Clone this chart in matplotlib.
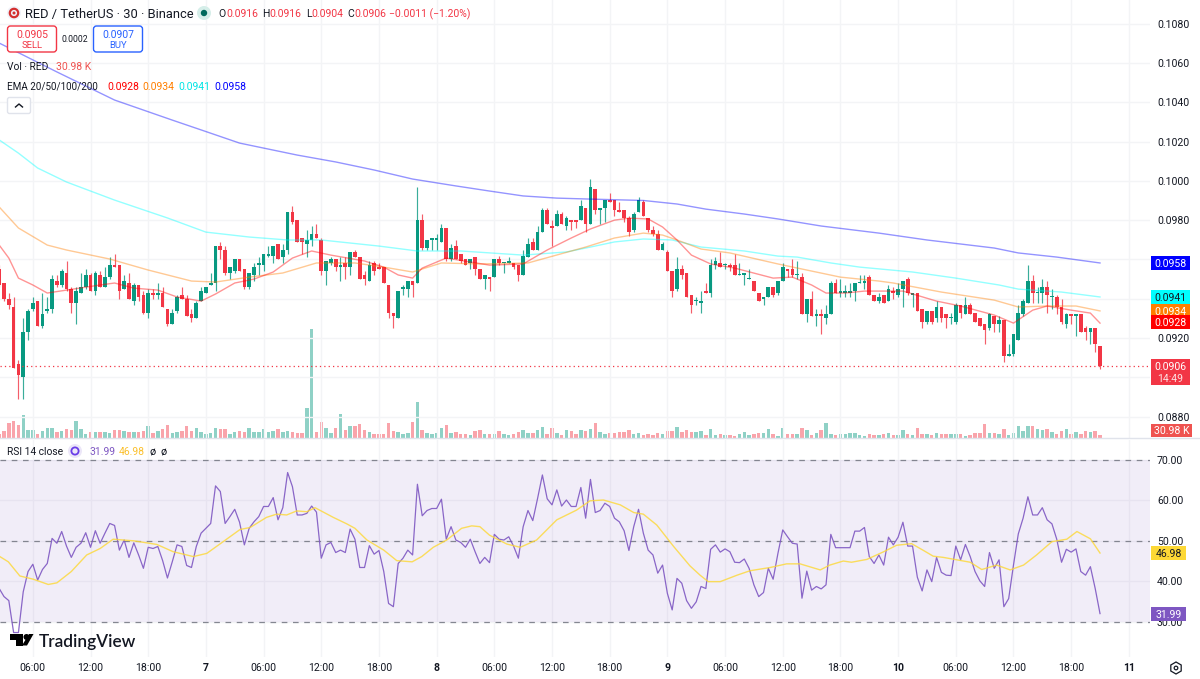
# TradingView style chart: RED/USDT 30 minute candles, volume, EMAs and RSI
import matplotlib
matplotlib.use('Agg')
import matplotlib.pyplot as plt
from matplotlib.patches import Rectangle, FancyBboxPatch, Circle, Polygon, RegularPolygon
from matplotlib.ticker import FuncFormatter
import numpy as np

plt.rcParams['font.family'] = ['Roboto', 'DejaVu Sans']

# prices are written in units of 0.0001
opens = [955,948,940,936,907,900,923,935,939,926,
         934,935,949,947,953,945,938,943,946,952,
         944,952,946,951,957,957,945,948,939,947,
         942,933,943,942,943,935,927,934,942,940,
         932,930,939,943,947,948,967,965,953,954,
         960,955,946,952,957,957,962,962,968,961,
         965,984,980,971,968,970,973,970,954,958,
         960,956,958,956,964,961,952,949,958,956,
         956,947,933,930,945,945,949,948,980,966,
         970,970,969,976,960,967,963,960,958,961,
         955,950,951,951,960,958,958,958,957,952,
         961,969,965,974,985,977,977,983,977,980,
         980,980,986,978,996,985,986,990,990,985,
         985,981,975,984,989,981,975,973,965,964,
         954,945,955,953,942,939,938,944,943,957,
         958,957,957,957,952,952,950,949,943,940,
         941,946,943,949,955,955,952,951,932,940,
         931,932,930,932,948,943,943,943,944,948,
         948,951,942,939,942,939,944,942,945,950,
         942,943,935,928,934,930,936,932,930,928,
         937,932,937,933,930,927,925,931,927,929,
         911,912,919,932,938,949,943,943,946,941,
         941,936,927,932,931,932,925,923,925,916]
closes = [947,940,937,905,901,923,934,938,926,932,
          935,950,947,954,945,938,944,946,952,944,
          953,946,951,957,956,944,949,940,947,941,
          933,943,942,943,936,927,933,941,940,931,
          930,938,944,946,948,967,965,953,956,960,
          954,946,953,956,958,963,963,967,960,965,
          984,979,969,969,970,973,971,954,959,960,
          956,957,956,964,961,950,950,957,954,955,
          948,933,931,944,946,949,947,980,966,970,
          971,971,976,960,966,960,959,957,960,955,
          950,952,950,960,958,958,959,956,952,962,
          968,965,974,985,978,976,983,978,981,979,
          979,987,978,997,985,986,990,989,985,984,
          981,974,983,990,982,975,973,965,968,954,
          944,955,952,941,937,939,939,943,957,959,
          956,957,956,952,952,953,950,944,939,941,
          946,942,949,956,954,952,952,932,940,931,
          932,931,932,948,943,944,944,944,948,948,
          949,942,939,941,938,945,943,945,949,943,
          943,934,928,934,928,936,930,930,930,937,
          933,937,932,928,926,924,932,927,929,911,
          912,922,933,939,949,943,943,946,942,941,
          936,928,932,931,932,923,923,925,917,906]
highs = [957,948,943,941,909,930,935,941,939,943,
         941,952,952,955,959,946,946,953,955,953,
         954,954,956,961,963,957,952,953,948,947,
         944,945,945,948,946,935,935,942,946,942,
         935,939,946,946,953,967,969,967,956,960,
         960,955,953,958,961,963,967,967,968,968,
         984,987,980,971,975,977,978,971,959,961,
         960,961,961,964,965,961,954,959,959,958,
         956,947,933,944,947,949,949,997,983,970,
         971,973,978,976,968,970,963,960,960,961,
         955,952,951,960,962,958,961,958,957,965,
         971,971,977,986,986,980,985,984,982,980,
         980,990,986,1001,996,986,990,994,990,989,
         985,982,984,992,990,981,977,975,969,965,
         954,961,957,953,942,941,944,948,960,961,
         964,958,958,963,958,953,955,949,943,941,
         946,946,949,958,955,960,959,953,940,944,
         935,935,937,949,950,950,947,948,948,952,
         952,952,942,943,942,947,946,948,949,951,
         943,943,935,934,934,939,936,932,933,938,
         937,941,938,933,930,927,933,931,931,929,
         917,922,937,940,957,952,946,950,949,945,
         942,940,933,932,932,932,926,925,925,916]
lows = [946,939,935,905,889,889,919,934,926,925,
        933,933,946,946,944,933,927,943,945,944,
        942,946,946,950,956,940,945,940,937,939,
        932,930,940,940,936,926,927,933,940,931,
        928,930,939,943,947,944,960,952,950,953,
        954,945,945,949,952,954,961,958,960,958,
        963,978,969,963,961,967,971,952,947,957,
        954,949,950,952,961,950,947,949,952,955,
        948,930,925,930,942,941,941,948,965,965,
        965,965,969,959,959,960,958,957,955,952,
        950,945,944,951,957,953,958,955,949,952,
        961,965,965,974,978,967,977,978,975,975,
        976,980,974,978,983,978,979,989,982,984,
        979,972,974,984,982,974,972,965,965,954,
        941,944,950,941,933,937,933,943,941,955,
        956,955,954,952,952,947,950,944,939,937,
        941,941,942,949,951,951,950,932,928,931,
        926,922,927,932,943,941,941,941,939,948,
        945,942,939,938,938,939,940,941,936,942,
        936,934,925,927,927,928,928,925,927,927,
        930,932,932,928,926,917,924,923,923,908,
        911,911,919,931,938,938,938,938,933,935,
        932,927,925,927,921,923,919,917,913,904]
# volume in thousands
volumes = [53,84,195,217,172,296,97,97,44,84,
           128,128,75,84,119,97,217,115,44,75,
           75,75,71,66,97,97,84,75,75,75,
           88,150,66,88,111,172,62,71,80,150,
           80,133,75,53,57,133,119,119,53,75,
           84,75,128,75,75,115,75,80,119,75,
           80,75,62,66,398,1446,75,204,133,66,
           133,318,106,150,159,186,106,75,44,44,
           53,195,84,75,44,66,204,469,97,62,
           53,66,133,172,66,75,53,44,31,84,
           106,44,53,53,84,44,31,53,75,97,
           66,66,97,142,44,133,66,31,97,88,
           44,106,84,119,195,75,44,66,66,75,
           71,97,53,66,31,44,31,66,53,88,
           88,142,75,106,75,75,88,31,111,31,
           44,31,31,18,44,75,31,53,66,66,
           111,53,18,133,44,53,53,133,97,31,
           66,97,195,53,31,53,53,66,66,31,
           18,40,31,35,44,57,35,27,97,44,
           31,128,44,44,31,66,40,40,44,44,
           44,22,35,66,66,181,66,66,40,111,
           35,66,150,80,159,150,119,97,119,75,
           44,84,111,44,75,53,84,75,84,30.98]

# EMAs at the bars listed
ema200_bars = [0,12,24,36,42,50,62,70,78,86,95,102,109,116,123,134,141,147,155,162,171,183,193,207,212,220,229]
ema200 = [1070.1,1055.4,1041.1,1030.9,1025.9,1019.2,1013.1,1009.6,1005.5,1000.9,997.4,994.8,992.3,991.2,990.7,990,
          988.2,985.6,983.1,980.6,977,973.4,969.9,965.8,963.3,961.2,958.2]
ema100_bars = [0,4,8,14,24,35,43,52,60,67,79,87,96,109,118,123,128,134,140,146,155,162,166,173,179,190,199,208,212,221,229]
ema100 = [1020.8,1014.1,1006.5,999.4,990.2,981.1,973.9,971.4,969.9,969.9,966.8,964.3,964.3,962.2,963.8,966.3,968.9,
          970.4,969.9,966.3,964.3,961.7,961.2,958.2,956.1,953.6,950.5,947,944.9,943.4,940.9]
ema50_bars = [0,4,10,14,23,31,40,45,52,59,66,74,80,86,92,100,110,122,128,134,138,141,146,152,162,168,175,183,186,196,207,212,218,224,229]
ema50 = [986.7,976,967.3,964.8,960.2,954.6,949,948.5,951,953.1,958.2,958.2,956.1,953.6,958.2,957.7,958.2,966.3,970.9,
         973.4,972.4,969.9,965.3,963.3,957.7,954.6,951,949,948,943.4,939.3,935.8,936.3,936.3,933.8]
ema20_bars = [0,2,4,7,10,14,21,24,28,33,37,42,45,49,53,57,61,65,69,76,80,83,86,88,93,102,109,114,119,123,128,131,135,138,
              141,144,148,153,161,165,169,172,176,180,188,195,200,207,211,215,218,223,227,229]
ema20 = [967.3,960.7,950.5,947,942.9,944.4,947,948,945.4,944.4,940.9,938.8,942.4,948,950,953.6,960.7,964.3,962.2,959.2,
         956.1,952.1,950.5,955.6,960.7,957.1,957.7,964.8,970.9,975.5,980,981,980.6,976.5,969.9,962.2,957.7,955.6,950.5,
         951,947,942.9,942.9,943.9,943.9,938.8,936.3,931.7,927.6,934.2,936.3,934.2,932.7,927.6]

rsi = [38.2,36.2,35.2,27.3,27.3,37.4,42.4,44.2,40.3,42.9,
       44.4,50.6,49.4,52.3,48.7,45.9,48.4,49.4,52,48.4,
       52.5,49.4,51.9,54.3,53.8,47.7,50.2,45.9,49.5,46.5,
       43.2,48.4,48.1,48.6,45.1,40.8,44.8,49,48.6,43.9,
       43.4,48.6,51.9,53.1,54.3,63.6,62.2,54.3,56,57.8,
       54.6,49,53.1,54.7,56,58.5,58.5,60.7,55.2,58.2,
       66.9,63.4,56.4,56.4,56.8,58.6,57.1,45.7,49,49.6,
       47.1,47.7,47.1,52.9,50.4,43.4,43.4,48.8,46.7,47.6,
       42.4,34.5,33.7,44.4,45.7,47.7,46.5,64,56.2,57.5,
       58,58,60.3,50.4,53.5,50.2,49.6,48.4,50.4,47.3,
       44.4,45.9,44.6,51.6,50.4,50.2,51,48.7,45.7,53.5,
       57.5,55,60.5,66.3,60.4,58.9,62.6,58.6,60.1,58.5,
       58.5,63.2,55.6,65.2,57,57.5,59.3,58.5,55.6,54.7,
       52.5,47.6,53.5,57.8,51.9,47.7,46.5,42,44,37,
       32.9,40.7,39.5,35.2,33.3,34.9,38.7,38.2,47.9,49,
       47.2,48,47.3,44.7,44.6,45.5,43.2,39.1,36.2,37.2,
       43.2,40.5,46.9,52.7,51,49.4,49.2,35.8,42.5,37.8,
       38.7,38.1,39.1,51.6,48.3,48.3,48.3,48.3,52.4,52.4,
       53.3,46.1,44.4,46.5,44,50.9,49,50.9,54.6,48.7,
       48.7,41,37.6,42.8,39.9,45.9,42.2,41.5,41.4,48.7,
       45.3,49.1,46.1,42.4,40.1,38.7,47.1,43.2,45.3,33.7,
       35.7,44,51.7,55.6,60.9,56.4,56.4,58.2,55.2,54.2,
       50.4,44.7,47.9,47.2,48,42.4,41.5,43.6,38.2,31.99]
rsi_ma_bars = [0,1.9,4.3,7.1,10.2,12,15,18.2,21,23.7,28,32.8,36.2,40.4,43.2,47.3,50.1,52.2,55.6,57.7,59.8,61.9,64,65.7,
               69.5,72.3,74,76.5,80,82.7,85.9,87.9,90.3,93.1,96.2,98.3,100,102,105.6,108.4,111.8,116,120.1,122.9,125.7,
               129.2,132,134,136.8,140.3,143.7,145.8,147.5,150,153.5,156.2,160.4,163.8,166.6,168,170.8,172.8,175.6,
               177.3,180.5,184,186.7,189.8,192.3,194.3,196.4,199.2,202,204.4,207.5,210.3,213.1,215.8,219,222.1,224.2,227,229]
rsi_ma = [46.2,44.8,41.3,40.5,39.2,39.6,42.4,46.5,48.1,50.4,50,49.1,47.3,46.1,46.9,50.4,52.8,53.3,55.8,56.6,56.4,57.4,57.2,
          58.2,55.8,54.2,53.1,50.2,47.7,45.1,44.8,46.1,48.4,50.2,53.1,53.7,53.5,51.4,49.2,48.4,50.2,55.2,57.6,59.9,60.1,
          58.9,57,56.6,53.9,48.6,43.8,41.5,39.9,39.9,41.5,42.6,43.4,44.3,44.3,43.8,42.8,44,45,44.7,45.4,47.3,48.9,49.3,
          47.6,46.2,45.9,45.3,44.7,42.9,44,42.8,44,46.5,49.8,50.4,52.3,50.5,46.98]

x_tick_bars = [7,19,31,43,55,67,79,91,103,115,127,139,151,163,175,187,199,211,223,235]
x_tick_labels = ['06:00','12:00','18:00','7','06:00','12:00','18:00','8','06:00','12:00','18:00',
                 '9','06:00','12:00','18:00','10','06:00','12:00','18:00','11']
day_labels = ['7', '8', '9', '10', '11']

price_ticks = [880,900,920,940,960,980,1000,1020,1040,1060,1080]
hidden_price_labels = [900, 940, 960]  # sit behind the price chips
rsi_ticks = [30,40,50,60,70]
last_price = 906

UP = '#089981'
DOWN = '#f23645'
GRID = '#f3f4f6'
TEXT = '#131722'
W, H = 1200, 679

opens = np.array(opens) / 1e4
closes = np.array(closes) / 1e4
highs = np.array(highs) / 1e4
lows = np.array(lows) / 1e4
bars = np.arange(len(opens))
colors = np.where(closes >= opens, UP, DOWN)


def pane(top, bottom, right=1150):
    return [0, 1 - bottom / H, right / W, (bottom - top) / H]


def price_label(v, p):
    if round(v * 1e4) in hidden_price_labels:
        return ''
    return f'{v:.4f}'


fig = plt.figure(figsize=(W / 100, H / 100), dpi=100)

# price pane
ax_vol = fig.add_axes(pane(0, 437.5), zorder=1)
ax = fig.add_axes(pane(0, 437.5), zorder=2, sharex=ax_vol)
ax.patch.set_alpha(0)
ax_vol.set_ylim(0, 437.5 * 13.3)
ax_vol.bar(bars, volumes, width=0.72, color=colors, alpha=0.45, linewidth=0)
ax_vol.axis('off')

ax.vlines(bars, lows, highs, color=colors, linewidth=0.85, alpha=0.8, zorder=3)
ax.bar(bars, np.maximum(np.abs(closes - opens), 0.00006), bottom=np.minimum(opens, closes),
       width=0.76, color=colors, linewidth=0, zorder=4)
for xs, ys, c in [(ema200_bars, ema200, '#0000ff'), (ema100_bars, ema100, '#00ffff'),
                  (ema50_bars, ema50, '#ff7f00'), (ema20_bars, ema20, '#ff0000')]:
    ax.plot(xs, np.array(ys) / 1e4, color=c, linewidth=1.0, alpha=0.42, zorder=5)
ax.axhline(last_price / 1e4, color=DOWN, linewidth=0.9, linestyle=(0, (1, 2.5)), zorder=5)

ax.set_xlim(0.166, 239.4)
ax.set_ylim(0.08694, 0.10920)
ax.set_yticks(np.array(price_ticks) / 1e4)
ax.yaxis.set_major_formatter(FuncFormatter(price_label))
ax.yaxis.tick_right()
ax.set_xticks(x_tick_bars)
ax.tick_params(axis='y', length=0, pad=5, labelsize=7.6, labelcolor=TEXT)
ax.tick_params(axis='x', length=0, labelbottom=False)
ax.grid(True, color=GRID, linewidth=1)
ax.set_axisbelow(True)
for s in ax.spines.values():
    s.set_visible(False)

# RSI pane
ax_rsi = fig.add_axes(pane(440, 657))
ax_rsi.patch.set_alpha(0)
ax_rsi.set_xlim(0.166, 239.4)
ax_rsi.set_ylim(21.25, 74.95)
ax_rsi.axhspan(30, 70, color='#7e57c2', alpha=0.1, linewidth=0)
for level in [70, 50, 30]:
    ax_rsi.axhline(level, color='#787b86', linewidth=0.9, linestyle=(0, (4.5, 4.5)), alpha=0.9)
ax_rsi.plot(bars, rsi, color='#7e57c2', linewidth=0.9, alpha=0.9, zorder=4)
ax_rsi.plot(rsi_ma_bars, rsi_ma, color='#fdd835', linewidth=1.0, alpha=0.8, zorder=4)
ax_rsi.set_yticks(rsi_ticks)
ax_rsi.yaxis.set_major_formatter(FuncFormatter(lambda v, p: f'{v:.2f}'))
ax_rsi.yaxis.tick_right()
ax_rsi.set_xticks(x_tick_bars)
ax_rsi.set_xticklabels(x_tick_labels)
ax_rsi.tick_params(axis='y', length=0, pad=5, labelsize=7.6, labelcolor=TEXT)
ax_rsi.tick_params(axis='x', length=0, pad=4, labelsize=7.6, labelcolor=TEXT)
for lab in ax_rsi.get_xticklabels():
    if lab.get_text() in day_labels:
        lab.set_fontweight('bold')
ax_rsi.grid(True, color=GRID, linewidth=1)
ax_rsi.set_axisbelow(True)
for s in ax_rsi.spines.values():
    s.set_visible(False)

# overlay in screen pixels for the legends, price chips and logo
ui = fig.add_axes([0, 0, 1, 1], zorder=10)
ui.set_xlim(0, W)
ui.set_ylim(H, 0)
ui.axis('off')
fig.canvas.draw()


def px(axes, value):
    return H - axes.transData.transform((1, value))[1]


def chip(y, label, bg, fg='white', x0=1151, x1=1190, h=14, size=7.6):
    ui.add_patch(Rectangle((x0, y - h / 2), x1 - x0, h, facecolor=bg, edgecolor='none', zorder=3))
    ui.text((x0 + x1) / 2, y, label, color=fg, fontsize=size, ha='center', va='center_baseline', zorder=4)


ui.plot([0, W], [437.5, 437.5], color='#e0e3eb', linewidth=1)

chip(px(ax, 0.0958), '0.0958', '#0000ff')
chip(px(ax, 0.0941), '0.0941', '#00ffff', fg=TEXT)
chip(px(ax, 0.0934), '0.0934', '#ff7f00')
chip(px(ax, 0.0928), '0.0928', '#ff0000')
ui.add_patch(Rectangle((1151, 359), 39, 25.5, facecolor=DOWN, edgecolor='none', zorder=3))
ui.text(1170.5, 366, '0.0906', color='white', fontsize=7.6, ha='center', va='center_baseline', zorder=4)
ui.text(1170.5, 378, '14:49', color='white', fontsize=7.6, alpha=0.85, ha='center', va='center_baseline', zorder=4)
chip(430.5, '30.98 K', '#ef5350', x1=1192, h=13.5)
chip(px(ax_rsi, 46.98), '46.98', '#fdd835', fg=TEXT, x1=1186)
chip(px(ax_rsi, 31.99), '31.99', '#7e57c2', x1=1186)

# header
FS = 7.1
NUM = 7.5
ui.add_patch(Circle((14, 13), 7, facecolor='#f0f3fa', edgecolor='none'))
ui.add_patch(Circle((14, 13), 4.2, facecolor='none', edgecolor='#d32f2f', linewidth=1.6))
ui.add_patch(Circle((14, 13), 1.5, facecolor='#d32f2f', edgecolor='none'))
ui.text(25, 13, 'RED / TetherUS · 30 · Binance', fontsize=9.3, color=TEXT, va='center_baseline')
ui.add_patch(Circle((204, 13), 7, facecolor='#d5eee9', edgecolor='none'))
ui.add_patch(Circle((204, 13), 3.2, facecolor='#00695c', edgecolor='none'))
for x, s, c in [(218, 'O', TEXT), (226, '0.0916', DOWN), (262, 'H', TEXT), (269, '0.0916', DOWN),
                (306, 'L', TEXT), (311, '0.0904', DOWN), (347, 'C', TEXT), (354, '0.0906', DOWN),
                (389, '−0.0011 (−1.20%)', DOWN)]:
    ui.text(x, 13, s, fontsize=NUM, color=c, va='center_baseline')

ui.add_patch(FancyBboxPatch((7.5, 26), 49, 26, boxstyle='round,pad=0,rounding_size=3', facecolor='white',
                            edgecolor=DOWN, linewidth=1))
ui.text(32, 33.5, '0.0905', fontsize=NUM, color=DOWN, ha='center', va='center_baseline')
ui.text(32, 45, 'SELL', fontsize=6.8, color=DOWN, ha='center', va='center_baseline')
ui.text(75, 39, '0.0002', fontsize=6.2, color=TEXT, ha='center', va='center_baseline')
ui.add_patch(FancyBboxPatch((93.5, 26), 49, 26, boxstyle='round,pad=0,rounding_size=3', facecolor='white',
                            edgecolor='#2962ff', linewidth=1))
ui.text(118, 33.5, '0.0907', fontsize=NUM, color='#2962ff', ha='center', va='center_baseline')
ui.text(118, 45, 'BUY', fontsize=6.8, color='#2962ff', ha='center', va='center_baseline')

ui.text(7, 66, 'Vol · RED', fontsize=FS + 0.3, color=TEXT, va='center_baseline')
ui.text(56, 66, '30.98 K', fontsize=NUM, color='#ef5350', va='center_baseline')

ui.text(7, 85.5, 'EMA 20/50/100/200', fontsize=FS, color=TEXT, va='center_baseline')
for x, s, c in [(107, '0.0928', '#ff0000'), (142, '0.0934', '#ff7f00'), (178, '0.0941', '#00e5e5'),
                (214, '0.0958', '#0000ff')]:
    ui.text(x, 85.5, s, fontsize=NUM, color=c, va='center_baseline')

ui.add_patch(FancyBboxPatch((7.5, 97.5), 23, 16, boxstyle='round,pad=0,rounding_size=2', facecolor='white',
                            edgecolor='#e0e3eb', linewidth=1))
ui.plot([15.5, 19, 22.5], [107, 104, 107], color=TEXT, linewidth=1)

# RSI legend
ui.text(7, 451, 'RSI 14 close', fontsize=FS + 0.3, color=TEXT, va='center_baseline')
ui.add_patch(Circle((75, 451), 7, facecolor='#ece7f8', edgecolor='none'))
ui.add_patch(Circle((75, 451), 3.6, facecolor='none', edgecolor='#6a3de8', linewidth=1.3))
ui.text(89, 451, '31.99', fontsize=NUM, color='#7e57c2', va='center_baseline')
ui.text(119, 451, '46.98', fontsize=NUM, color='#fbc02d', va='center_baseline')
ui.text(153, 451, 'ø', fontsize=7.9, color=TEXT, va='center_baseline', ha='center')
ui.text(164, 451, 'ø', fontsize=7.9, color=TEXT, va='center_baseline', ha='center')

# TradingView logo
ui.add_patch(Polygon([(9.5, 634), (23, 634), (23, 645.5), (16, 645.5), (16, 640), (9.5, 640)], facecolor='black',
                     edgecolor='none'))
ui.add_patch(Circle((26.5, 637), 3, facecolor='black', edgecolor='none'))
ui.add_patch(Polygon([(29, 634), (33.5, 634), (27, 645.5), (22, 645.5)], facecolor='black', edgecolor='none'))
ui.text(39, 640, 'TradingView', fontsize=12.4, color='#131722', fontweight='semibold', family='Lato',
        va='center_baseline')

# settings icon
ui.add_patch(RegularPolygon((1176, 668), 6, radius=6, facecolor='none', edgecolor=TEXT, linewidth=0.9))
ui.add_patch(Circle((1176, 668), 1.8, facecolor='none', edgecolor=TEXT, linewidth=0.9))

fig.savefig('out.png', dpi=100)
